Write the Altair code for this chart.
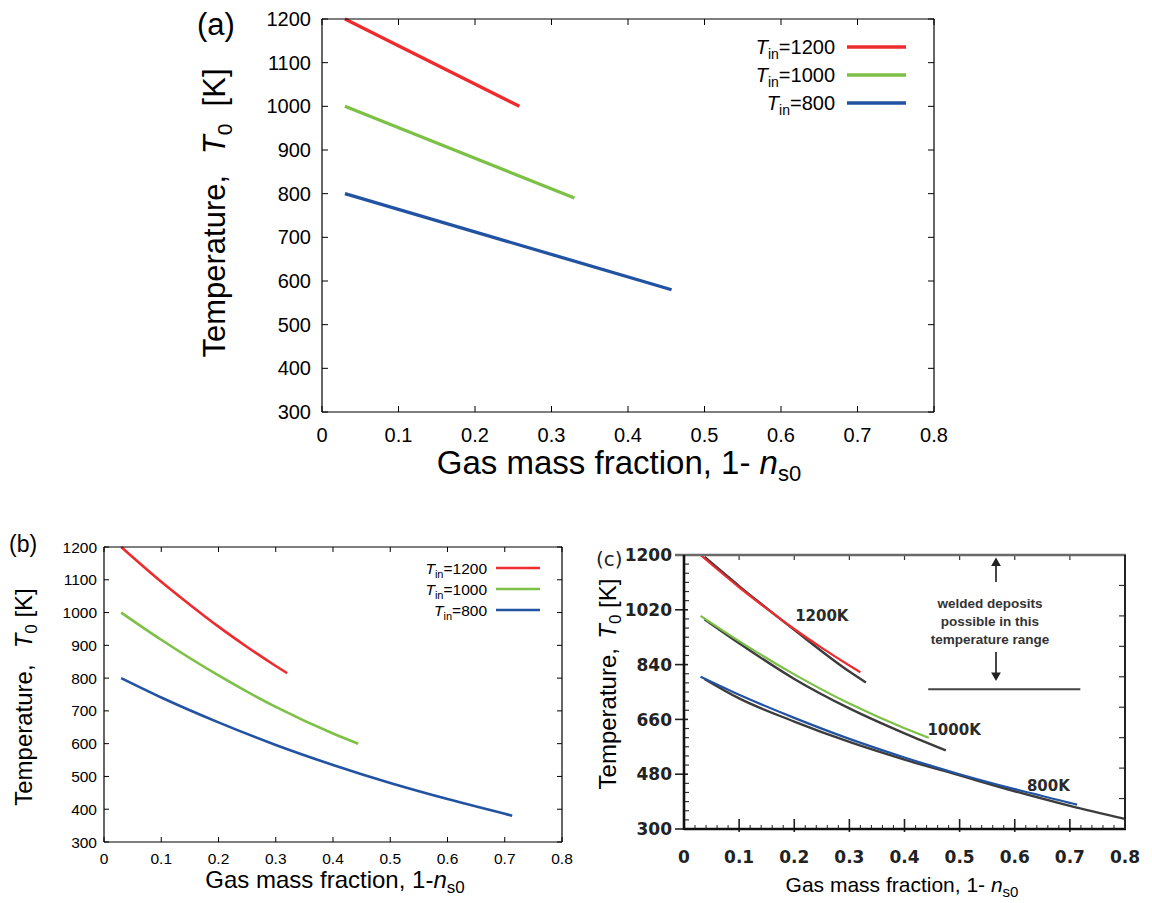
import altair as alt
import pandas as pd

FONT = "Liberation Sans"
FONT_C = "DejaVu Sans"
SERIES = ["Tin=1200", "Tin=1000", "Tin=800"]
COLORS = ["#ee2b2e", "#7cc145", "#2253a3"]

# ---------------- data: panel (a) ----------------
a_red_x = [0.03, 0.258]
a_red_T = [1200, 1000]
a_green_x = [0.03, 0.33]
a_green_T = [1000, 790]
a_blue_x = [0.03, 0.457]
a_blue_T = [800, 580]

# ---------------- data: panel (b) (also the coloured overlays in (c)) ----------------
b_red_x = [0.03, 0.1, 0.15, 0.2, 0.25, 0.3, 0.32]
b_red_T = [1200, 1094, 1024, 957, 895, 837, 815]
b_green_x = [0.03, 0.1, 0.2, 0.3, 0.4, 0.444]
b_green_T = [1000, 917, 808, 712, 631, 600]
b_blue_x = [0.03, 0.1, 0.2, 0.3, 0.4, 0.5, 0.6, 0.7, 0.713]
b_blue_T = [800, 741, 665, 596, 535, 480, 431, 386, 380]

# ---------------- data: panel (c) black (original) curves ----------------
c_k1200_x = [0.037, 0.1, 0.2, 0.3, 0.33]
c_k1200_T = [1194, 1098, 954, 817, 781]
c_k1000_x = [0.037, 0.1, 0.2, 0.3, 0.4, 0.475]
c_k1000_T = [989, 910, 793, 696, 614, 558]
c_k800_x = [0.037, 0.1, 0.2, 0.3, 0.4, 0.5, 0.6, 0.7, 0.8]
c_k800_T = [793, 729, 653, 586, 528, 476, 424, 376, 333]

c_lab_text = ["1200K", "1000K", "800K"]
c_lab_x = [0.25, 0.49, 0.661]
c_lab_T = [1000, 626, 440]
c_note_text = ["welded  deposits", "possible  in  this", "temperature  range"]
c_note_x = [0.555, 0.555, 0.555]
c_note_T = [1040, 980, 921]
c_arrow_x = [0.566, 0.566]
c_arrow_T0 = [1111, 881]
c_arrow_T1 = [1175, 803]
c_head_shape = ["triangle-up", "triangle-down"]
c_head_T = [1178, 800]
c_range_x = [0.443]
c_range_x2 = [0.719]
c_range_T = [759]

# ---------------- ticks and tick labels ----------------
ab_xticks = [0, 0.1, 0.2, 0.3, 0.4, 0.5, 0.6, 0.7, 0.8]
ab_xlabels = ["0", "0.1", "0.2", "0.3", "0.4", "0.5", "0.6", "0.7", "0.8"]
ab_yticks = [300, 400, 500, 600, 700, 800, 900, 1000, 1100, 1200]
ab_ylabels = ["300", "400", "500", "600", "700", "800", "900", "1000", "1100", "1200"]
c_ymajor = [300, 480, 660, 840, 1020, 1200]
c_ylabels = ["300", "480", "660", "840", "1020", "1200"]
c_yminor = [v for v in range(330, 1200, 30) if v not in c_ymajor]
c_yright = [400, 500, 600, 700, 800, 900, 1000, 1100]
c_xmajor = [0.1, 0.2, 0.3, 0.4, 0.5, 0.6, 0.7]
c_xminor = [round(0.02 * i, 2) for i in range(1, 40) if i % 5 != 0]

ONE = pd.DataFrame({"d": [0]})
M = 8  # page margin: page coordinates -> chart coordinates

# panel placement (page pixels): plot-area left, top, width, height
PA = dict(x0=322, y0=19, W=612, H=393)
PB = dict(x0=104, y0=547, W=458, H=295)
PC = dict(x0=684, y0=555, W=441, H=274)

WID = {' ': 278, ',': 278, '-': 333, '.': 278, '(': 333, ')': 333, '[': 278, ']': 278, '=': 584,
       'G': 778, 'K': 667, 'T': 611,
       'a': 556, 'b': 556, 'c': 500, 'd': 556, 'e': 556, 'f': 278, 'g': 556, 'h': 556, 'i': 222,
       'k': 500, 'l': 222, 'm': 833, 'n': 556, 'o': 556, 'p': 556, 'r': 333, 's': 500, 't': 278,
       'u': 556, 'w': 722}


def tw(s, size):
    return sum(WID.get(ch, 556) for ch in s) * size / 1000.0


def sx(p):
    return alt.Scale(domain=[0, 0.8], range=[p["x0"] - M, p["x0"] - M + p["W"]], nice=False, zero=False)


def sy(p):
    return alt.Scale(domain=[300, 1200], range=[p["y0"] - M + p["H"], p["y0"] - M], nice=False, zero=False)


def X(field, p):
    return alt.X(field, scale=sx(p), axis=None)


def Y(field, p):
    return alt.Y(field, scale=sy(p), axis=None)


def rich(parts, x, y, angle=0, align="left", color="black"):
    total = sum(tw(q[0], q[1]) for q in parts)
    adv = {"left": 0.0, "center": -total / 2.0, "right": -total}[align]
    out = []
    for text, size, italic, shift in parts:
        lead = len(text) - len(text.lstrip(" "))
        core = text.strip(" ")
        adv += tw(" " * lead, size)
        out.append(
            alt.Chart(ONE).mark_text(
                text=core, align="left", baseline="alphabetic", dx=adv, dy=shift, angle=angle,
                fontSize=size, font=FONT, fontStyle="italic" if italic else "normal", color=color,
            ).encode(x=alt.value(x - M), y=alt.value(y - M))
        )
        adv += tw(text[lead:], size)
    return out


def label(text, x, y, size, font=FONT, color="black", weight="normal"):
    return alt.Chart(ONE).mark_text(text=text, align="left", baseline="alphabetic", fontSize=size, font=font,
                                    color=color, fontWeight=weight).encode(x=alt.value(x - M), y=alt.value(y - M))


def long_df(groups):
    rows = []
    for name, xs, ts in groups:
        for xv, tv in zip(xs, ts):
            rows.append({"s": name, "x": xv, "T": tv})
    return pd.DataFrame(rows)


def tick_rules(p, vals, ch, r0, r1, color="black", width=1.0):
    """ticks drawn from tick values through the panel scale; r0/r1 are offsets from the plot edge"""
    df = pd.DataFrame({"v": vals})
    if ch == "bottom":
        enc = dict(x=X("v:Q", p), y=alt.value(p["y0"] - M + p["H"] + r0), y2=alt.value(p["y0"] - M + p["H"] + r1))
    elif ch == "top":
        enc = dict(x=X("v:Q", p), y=alt.value(p["y0"] - M + r0), y2=alt.value(p["y0"] - M + r1))
    elif ch == "left":
        enc = dict(y=Y("v:Q", p), x=alt.value(p["x0"] - M + r0), x2=alt.value(p["x0"] - M + r1))
    else:
        enc = dict(y=Y("v:Q", p), x=alt.value(p["x0"] - M + p["W"] + r0), x2=alt.value(p["x0"] - M + p["W"] + r1))
    return alt.Chart(df).mark_rule(color=color, strokeWidth=width).encode(**enc)


def xlabels(p, vals, labs, size, base_y, font=FONT, weight="normal", color="black"):
    df = pd.DataFrame({"v": vals, "l": labs})
    return alt.Chart(df).mark_text(align="center", baseline="alphabetic", fontSize=size, font=font,
                                   fontWeight=weight, color=color).encode(
        x=X("v:Q", p), y=alt.value(base_y - M), text="l:N")


def ylabels(p, vals, labs, size, right_x, font=FONT, weight="normal", color="black", cap=0.716):
    df = pd.DataFrame({"v": vals, "l": labs})
    return alt.Chart(df).mark_text(align="right", baseline="alphabetic", dy=cap * size / 2.0, fontSize=size,
                                   font=font, fontWeight=weight, color=color).encode(
        y=Y("v:Q", p), x=alt.value(right_x - M), text="l:N")


def frame(p, color="black", width=1.2):
    x0, y0, W, H = p["x0"] - M, p["y0"] - M, p["W"], p["H"]
    r = []
    r.append(alt.Chart(ONE).mark_rule(color=color, strokeWidth=width).encode(x=alt.value(x0), x2=alt.value(x0 + W), y=alt.value(y0)))
    r.append(alt.Chart(ONE).mark_rule(color=color, strokeWidth=width).encode(x=alt.value(x0), x2=alt.value(x0 + W), y=alt.value(y0 + H)))
    r.append(alt.Chart(ONE).mark_rule(color=color, strokeWidth=width).encode(x=alt.value(x0), y=alt.value(y0), y2=alt.value(y0 + H)))
    r.append(alt.Chart(ONE).mark_rule(color=color, strokeWidth=width).encode(x=alt.value(x0 + W), y=alt.value(y0), y2=alt.value(y0 + H)))
    return r


def ab_panel(p, df, lw, lab_size, xlab_base, ylab_right, tick_len, rows, leg_right, sw0, sw1,
             leg_size, sub_size, sub_dy, tag, tag_x, tag_y, tag_size,
             yt_parts, yt_x, yt_y, xt_parts, xt_x, xt_y):
    out = []
    out.append(alt.Chart(df).mark_line(strokeWidth=lw, interpolate="monotone").encode(
        x=X("x:Q", p), y=Y("T:Q", p),
        color=alt.Color("s:N", scale=alt.Scale(domain=SERIES, range=COLORS), legend=None)))
    out += [tick_rules(p, ab_xticks, "bottom", -tick_len, 0), tick_rules(p, ab_xticks, "top", 0, tick_len),
            tick_rules(p, ab_yticks, "left", 0, tick_len), tick_rules(p, ab_yticks, "right", -tick_len, 0)]
    out += frame(p)
    out.append(xlabels(p, ab_xticks, ab_xlabels, lab_size, xlab_base))
    out.append(ylabels(p, ab_yticks, ab_ylabels, lab_size, ylab_right))
    for i, s in enumerate(SERIES):
        yc = rows[i]
        num = s.split("=")[1]
        out += rich([("T", leg_size, True, 0), ("in", sub_size, False, sub_dy), ("=" + num, leg_size, False, 0)],
                    leg_right, yc + 0.358 * leg_size, align="right")
        out.append(alt.Chart(ONE).mark_rule(color=COLORS[i], strokeWidth=lw).encode(
            x=alt.value(sw0 - M), x2=alt.value(sw1 - M), y=alt.value(yc - M)))
    out.append(label(tag, tag_x, tag_y, tag_size))
    out += rich(yt_parts, yt_x, yt_y, angle=270, align="center")
    out += rich(xt_parts, xt_x, xt_y, align="center")
    return out


df_a = long_df([(SERIES[0], a_red_x, a_red_T), (SERIES[1], a_green_x, a_green_T), (SERIES[2], a_blue_x, a_blue_T)])
df_b = long_df([(SERIES[0], b_red_x, b_red_T), (SERIES[1], b_green_x, b_green_T), (SERIES[2], b_blue_x, b_blue_T)])

layers = []
layers += ab_panel(
    PA, df_a, 3.3, 20, 442, 311, 6, [47, 75, 103], 835, 847, 906, 20, 14, 5,
    "(a)", 197, 35, 31,
    [("Temperature,  ", 31, False, 0), ("T", 31, True, 0), ("0", 21, False, 7), ("  [K]", 31, False, 0)], 225, 213,
    [("Gas mass fraction, 1- ", 33, False, 0), ("n", 33, True, 0), ("s0", 22, False, 7)], 619, 474)

layers += ab_panel(
    PB, df_b, 2.6, 15.5, 864, 97, 5, [568, 589, 610], 487, 496, 540, 15.5, 11, 4,
    "(b)", 9, 552, 23,
    [("Temperature,  ", 24, False, 0), ("T", 24, True, 0), ("0", 17, False, 5), (" [K]", 24, False, 0)], 32, 697,
    [("Gas mass fraction, 1-", 24, False, 0), ("n", 24, True, 0), ("s0", 17, False, 5)], 335, 888)

# ---------------- panel (c) ----------------
p = PC
df_k = long_df([("k1200", c_k1200_x, c_k1200_T), ("k1000", c_k1000_x, c_k1000_T), ("k800", c_k800_x, c_k800_T)])
layers.append(alt.Chart(df_k).mark_line(strokeWidth=2.4, color="#3c3c3c", interpolate="monotone").encode(
    x=X("x:Q", p), y=Y("T:Q", p), detail="s:N"))
layers.append(alt.Chart(df_b).mark_line(strokeWidth=2.2, interpolate="monotone").encode(
    x=X("x:Q", p), y=Y("T:Q", p),
    color=alt.Color("s:N", scale=alt.Scale(domain=SERIES, range=COLORS), legend=None)))
layers.append(alt.Chart(pd.DataFrame({"t": c_lab_text, "x": c_lab_x, "T": c_lab_T})).mark_text(
    font=FONT_C, fontSize=15, fontWeight="bold", color="#2a2a2a").encode(x=X("x:Q", p), y=Y("T:Q", p), text="t:N"))
layers.append(alt.Chart(pd.DataFrame({"t": c_note_text, "x": c_note_x, "T": c_note_T})).mark_text(
    font=FONT, fontSize=13.5, fontWeight="bold", color="#333333").encode(x=X("x:Q", p), y=Y("T:Q", p), text="t:N"))
layers.append(alt.Chart(pd.DataFrame({"x": c_arrow_x, "T0": c_arrow_T0, "T1": c_arrow_T1})).mark_rule(
    color="#333333", strokeWidth=1.8).encode(x=X("x:Q", p), y=Y("T0:Q", p), y2="T1:Q"))
layers.append(alt.Chart(pd.DataFrame({"x": c_arrow_x, "T": c_head_T, "sh": c_head_shape})).mark_point(
    filled=True, size=95, color="#222222", opacity=1).encode(
    x=X("x:Q", p), y=Y("T:Q", p), shape=alt.Shape("sh:N", scale=None)))
layers.append(alt.Chart(pd.DataFrame({"x": c_range_x, "x2": c_range_x2, "T": c_range_T})).mark_rule(
    color="#444444", strokeWidth=2.2).encode(x=X("x:Q", p), x2="x2:Q", y=Y("T:Q", p)))
layers += [
    tick_rules(p, c_ymajor, "left", -9, 4, "#222222", 1.6),
    tick_rules(p, c_yminor, "left", 0, 5, "#333333", 1.2),
    tick_rules(p, c_yright, "right", -6, 0, "#333333", 1.2),
    tick_rules(p, c_xmajor, "top", 0, 5, "#333333", 1.2),
    tick_rules(p, c_xmajor, "bottom", -10, 3, "#222222", 1.6),
    tick_rules(p, c_xminor, "bottom", -4, 0, "#333333", 1.1),
]
cx0, cy0, CW, CH = p["x0"] - M, p["y0"] - M, p["W"], p["H"]
layers += [
    alt.Chart(ONE).mark_rule(color="#6a6a6a", strokeWidth=2.6).encode(x=alt.value(cx0 - 9), x2=alt.value(cx0 + CW + 1), y=alt.value(cy0)),
    alt.Chart(ONE).mark_rule(color="#111111", strokeWidth=2.6).encode(x=alt.value(cx0), x2=alt.value(cx0 + CW + 1), y=alt.value(cy0 + CH)),
    alt.Chart(ONE).mark_rule(color="#111111", strokeWidth=2.6).encode(x=alt.value(cx0), y=alt.value(cy0), y2=alt.value(cy0 + CH + 1)),
    alt.Chart(ONE).mark_rule(color="#222222", strokeWidth=2).encode(x=alt.value(cx0 + CW), y=alt.value(cy0), y2=alt.value(cy0 + CH)),
]
layers.append(xlabels(p, ab_xticks, ab_xlabels, 17, 863, font=FONT_C, weight="bold", color="#222222"))
layers.append(ylabels(p, c_ymajor, c_ylabels, 17, 672, font=FONT_C, weight="bold", color="#222222", cap=0.729))
layers.append(label("(c)", 596, 566, 20, font=FONT_C, color="#222222"))
layers += rich([("Temperature, ", 24, False, 0), ("T", 24, True, 0), ("0", 17, False, 5), (" [K]", 24, False, 0)],
               616, 684, angle=270, align="center")
layers += rich([("Gas mass fraction, 1- ", 21, False, 0), ("n", 21, True, 0), ("s0", 15, False, 5)],
               902, 892, align="center")

chart = alt.layer(*layers).resolve_scale(x="independent", y="independent").properties(
    width=1136, height=887, padding=0, background="white"
).configure_view(stroke=None)

chart.save("out.html", embed_options={"renderer": "svg", "actions": False})
